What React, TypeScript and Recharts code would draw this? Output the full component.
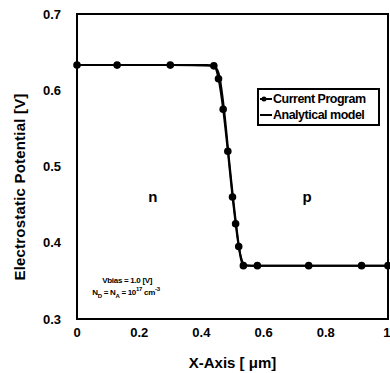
import React from "react";
import {
  LineChart,
  Line,
  XAxis,
  YAxis,
  ReferenceArea,
  ReferenceDot,
} from "recharts";

// simulation mesh points (x in um, potential in V)
const programX = [0, 0.129, 0.3, 0.44, 0.455, 0.47, 0.485, 0.5, 0.51, 0.52, 0.535, 0.58, 0.745, 0.915, 1.0];
const programV = [0.633, 0.633, 0.633, 0.632, 0.615, 0.575, 0.52, 0.46, 0.425, 0.395, 0.37, 0.37, 0.37, 0.37, 0.37];

const analyticX = [0, 0.2, 0.42, 0.445, 0.458, 0.472, 0.49, 0.51, 0.525, 0.54, 0.56, 0.8, 1.0];
const analyticV = [0.633, 0.633, 0.633, 0.63, 0.618, 0.578, 0.505, 0.43, 0.385, 0.371, 0.37, 0.37, 0.37];

const xTicks = [0, 0.2, 0.4, 0.6, 0.8, 1];
const yTicks = [0.3, 0.4, 0.5, 0.6, 0.7];

const seriesNames = ["Current Program", "Analytical model"];

const programData = programX.map((x, i) => ({ x, v: programV[i] }));
const analyticData = analyticX.map((x, i) => ({ x, v: analyticV[i] }));

const font = "'Liberation Sans', Arial, sans-serif";

function LegendBox() {
  return (
    <div
      style={{
        position: "absolute",
        left: 257,
        top: 88,
        border: "2px solid #000",
        background: "#fff",
        padding: "1px 1px",
        fontFamily: font,
        fontWeight: 700,
        fontSize: 12.5,
        lineHeight: "16px",
        letterSpacing: -0.5,
        color: "#000",
        width: 117,
        whiteSpace: "nowrap",
      }}
    >
      {seriesNames.map((name, i) => (
        <div key={name} style={{ display: "flex", alignItems: "center" }}>
          <svg width={12} height={8} style={{ marginRight: 1 }}>
            <line x1={0} y1={4} x2={12} y2={4} stroke="#000" strokeWidth={2} />
            {i === 0 && <circle cx={4} cy={4} r={2.5} fill="#000" />}
          </svg>
          {name}
        </div>
      ))}
    </div>
  );
}

const tickStyle = { fill: "#000", fontFamily: font, fontWeight: 700, fontSize: 13 };

export default function App() {
  return (
    <div style={{ position: "absolute", left: 0, top: 0, width: 390, height: 373, background: "#fff" }}>
      <LineChart
        width={390}
        height={373}
        margin={{ top: 14, right: 2, left: 0, bottom: 0 }}
      >
        <XAxis
          dataKey="x"
          type="number"
          domain={[0, 1]}
          ticks={xTicks}
          allowDuplicatedCategory={false}
          height={54}
          axisLine={false}
          tickLine={false}
          tickMargin={3}
          tick={tickStyle}
          label={{
            value: "X-Axis [ μm]",
            position: "insideBottom",
            offset: 5,
            fill: "#000",
            fontFamily: font,
            fontWeight: 700,
            fontSize: 15,
          }}
        />
        <YAxis
          type="number"
          domain={[0.3, 0.7]}
          ticks={yTicks}
          width={77}
          axisLine={false}
          tickLine={false}
          tickMargin={10}
          tickFormatter={(v: number) => v.toFixed(1)}
          tick={tickStyle}
          label={{
            content: () => (
              <text
                x={25}
                y={187}
                transform="rotate(-90 25 187)"
                textAnchor="middle"
                fill="#000"
                fontFamily={font}
                fontWeight={700}
                fontSize={15}
                letterSpacing={0.2}
              >
                Electrostatic Potential [V]
              </text>
            ),
          }}
        />
        <ReferenceArea
          x1={0}
          x2={1}
          y1={0.3}
          y2={0.7}
          fill="none"
          stroke="#000"
          strokeWidth={2}
          fillOpacity={0}
        />
        <Line
          data={analyticData}
          dataKey="v"
          name={seriesNames[1]}
          type="monotone"
          stroke="#000"
          strokeWidth={2}
          dot={false}
          isAnimationActive={false}
        />
        <Line
          data={programData}
          dataKey="v"
          name={seriesNames[0]}
          type="monotone"
          stroke="#000"
          strokeWidth={2}
          dot={{ r: 2.8, fill: "#000", stroke: "#000" }}
          isAnimationActive={false}
        />
        <ReferenceDot
          x={0.244}
          y={0.461}
          r={0}
          label={{ value: "n", fill: "#000", fontFamily: font, fontWeight: 700, fontSize: 15 }}
        />
        <ReferenceDot
          x={0.74}
          y={0.461}
          r={0}
          label={{ value: "p", fill: "#000", fontFamily: font, fontWeight: 700, fontSize: 15 }}
        />
        <ReferenceDot
          x={0.2}
          y={0.34}
          r={0}
          label={{
            content: (props: any) => {
              const { viewBox } = props;
              const cx = viewBox ? viewBox.x : 140;
              const cy = viewBox ? viewBox.y : 290;
              return (
                <text
                  fill="#000"
                  fontFamily={font}
                  fontWeight={700}
                  fontSize={8}
                  letterSpacing={-0.3}
                >
                  <tspan x={cx - 37} y={cy - 6}>Vbias = 1.0 [V]</tspan>
                  <tspan x={cx - 47} y={cy + 6}>N</tspan>
                  <tspan fontSize={6} dy={3}>D</tspan>
                  <tspan dy={-3}> = N</tspan>
                  <tspan fontSize={6} dy={3}>A</tspan>
                  <tspan dy={-3}> = 10</tspan>
                  <tspan fontSize={6} dy={-4}>17</tspan>
                  <tspan dy={4}> cm</tspan>
                  <tspan fontSize={6} dy={-4}>-3</tspan>
                </text>
              );
            },
          }}
        />
      </LineChart>
      <LegendBox />
    </div>
  );
}
